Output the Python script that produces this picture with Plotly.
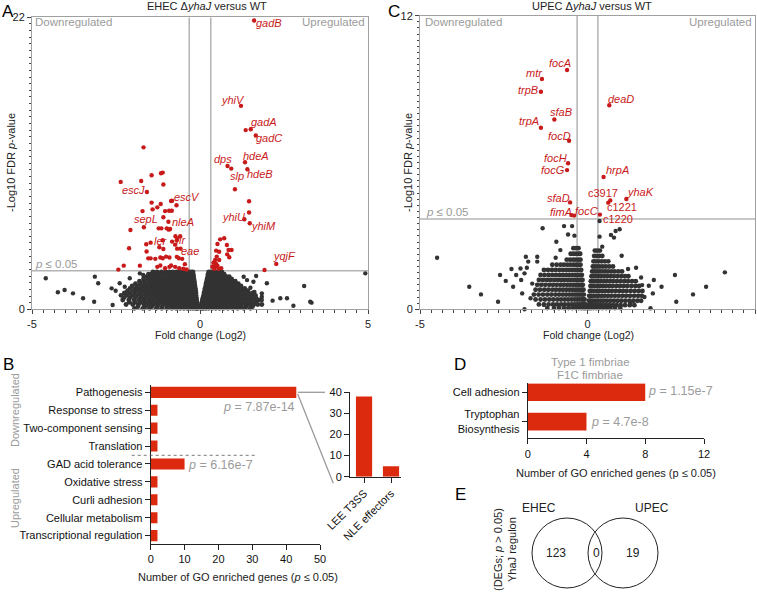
import plotly.graph_objects as go

W, H = 757, 597
FONT = "Liberation Sans, Arial, Helvetica, sans-serif"
RED_PT = "#c81a1a"
RED_BAR = "#dc2a0e"
BLACK_PT = "#333333"
GRAY = "#9b9b9b"
LINE_GRAY = "#b4b4b4"

# ---------------- Panel A: EHEC volcano ----------------
ehec_sig = [
    (1.61, 21.76), (1.22, 15.33), (1.36, 13.5), (1.51, 13.57), (1.66, 13.1), (1.34, 11.08), (0.82, 10.8),
    (0.93, 10.6), (1.41, 10.55), (1.04, 9.05), (1.46, 8.14), (1.46, 7.29), (1.32, 6.78), (1.48, 6.48),
    (2.27, 3.42), (1.92, 2.96),
    (0.72, 5.35), (0.60, 5.27), (0.80, 4.85), (0.52, 4.92), (0.85, 4.47), (0.94, 4.47), (0.48, 4.42),
    (0.57, 4.34), (0.81, 4.14), (0.87, 3.92), (0.50, 3.97), (0.45, 3.72), (0.57, 3.72), (0.40, 3.51),
    (0.48, 3.41), (0.37, 3.21), (0.45, 3.21), (0.52, 3.29), (0.42, 3.05), (0.55, 3.05), (0.63, 3.10),
    (-1.68, 12.2), (-2.36, 9.6), (-1.75, 9.67), (-1.44, 10.1), (-1.16, 10.25), (-1.11, 10.3), (-1.09, 9.4),
    (-1.58, 8.84), (-1.44, 8.04), (-1.17, 7.93), (-0.86, 8.16), (-0.83, 8.18), (-0.70, 7.84), (-1.71, 7.4),
    (-1.41, 7.53), (-1.27, 7.68), (-1.04, 7.4), (-0.92, 7.43), (-0.84, 7.43), (-1.09, 6.93), (-0.94, 6.6),
    (-1.67, 6.18), (-2.07, 5.98), (-1.23, 6.1), (-1.15, 6.1), (-0.99, 6.1), (-0.93, 6.0), (-0.89, 6.05),
    (-0.73, 5.5), (-0.68, 5.3), (-0.59, 5.5), (-0.83, 5.1), (-0.69, 5.2), (-1.47, 5.02), (-1.21, 4.67),
    (-1.09, 4.54), (-1.11, 5.2), (-0.74, 4.87), (-0.68, 4.57), (-0.58, 4.57), (-2.11, 4.6), (-1.33, 3.8),
    (-1.18, 3.9), (-1.11, 3.85), (-1.01, 3.97), (-0.91, 3.9), (-0.69, 3.95), (-0.63, 3.85), (-0.53, 3.8),
    (-1.79, 3.29), (-2.43, 2.99), (-1.47, 3.84), (-1.27, 3.2), (-1.18, 3.3), (-1.04, 3.1), (-0.91, 3.2),
    (-0.86, 3.3), (-0.74, 3.2), (-0.62, 3.1), (-0.50, 3.05), (-2.27, 3.29), (-1.59, 4.35), (-1.54, 3.84),
    (-0.40, 3.0), (-0.45, 3.4), (-1.60, 4.9),
]

ehec_ns_rows = [
    (2.82, [-1.40, -1.28, -1.15, -1.03, -0.92, -0.81, -0.70, -0.60, -0.50, -0.42, -0.34, -0.27, -0.21,
            0.26, 0.33, 0.40, 0.48, 0.56, 0.65]),
    (2.64, [-1.46, -1.34, -1.22, -1.09, -0.97, -0.86, -0.75, -0.65, -0.55, -0.46, -0.38, -0.30, -0.24, -0.20,
            0.24, 0.30, 0.37, 0.44, 0.52, 0.61, 0.72]),
    (2.46, [-1.58, -1.45, -1.33, -1.21, -1.09, -0.97, -0.86, -0.76, -0.66, -0.56, -0.47, -0.39, -0.31, -0.24, -0.19,
            0.23, 0.30, 0.37, 0.44, 0.52, 0.60, 0.69, 0.78, 0.87]),
    (2.28, [-1.68, -1.55, -1.42, -1.30, -1.18, -1.06, -0.95, -0.84, -0.74, -0.64, -0.54, -0.45, -0.37, -0.29, -0.22,
            -0.18,
            0.21, 0.27, 0.34, 0.41, 0.49, 0.57, 0.66, 0.75, 0.84, 0.94]),
    (2.11, [-1.80, -1.66, -1.52, -1.40, -1.28, -1.16, -1.04, -0.93, -0.82, -0.72, -0.62, -0.53, -0.44, -0.36, -0.28,
            -0.22, -0.17,
            0.20, 0.27, 0.34, 0.42, 0.50, 0.58, 0.67, 0.76, 0.85, 0.95, 1.05]),
    (1.93, [-1.92, -1.77, -1.63, -1.50, -1.37, -1.25, -1.13, -1.01, -0.90, -0.80, -0.70, -0.60, -0.51, -0.42, -0.34,
            -0.27, -0.21, -0.16,
            0.18, 0.24, 0.31, 0.39, 0.47, 0.56, 0.65, 0.74, 0.84, 0.94, 1.04, 1.14]),
    (1.76, [-2.02, -1.86, -1.72, -1.59, -1.46, -1.34, -1.22, -1.10, -0.98, -0.87, -0.77, -0.67, -0.57, -0.48, -0.40,
            -0.32, -0.25, -0.19, -0.15,
            0.17, 0.23, 0.30, 0.38, 0.46, 0.55, 0.64, 0.73, 0.83, 0.93, 1.03, 1.13, 1.22]),
    (1.58, [-2.08, -1.92, -1.78, -1.64, -1.51, -1.38, -1.26, -1.14, -1.02, -0.91, -0.80, -0.70, -0.60, -0.51, -0.42,
            -0.34, -0.27, -0.21, -0.16, -0.14,
            0.15, 0.21, 0.28, 0.36, 0.44, 0.53, 0.62, 0.71, 0.81, 0.91, 1.01, 1.11, 1.22, 1.33]),
    (1.41, [-2.15, -1.98, -1.84, -1.70, -1.57, -1.44, -1.31, -1.19, -1.07, -0.95, -0.84, -0.74, -0.64, -0.54, -0.45,
            -0.37, -0.29, -0.22, -0.16, -0.13,
            0.14, 0.19, 0.26, 0.34, 0.42, 0.51, 0.60, 0.69, 0.79, 0.89, 0.99, 1.09, 1.20, 1.31, 1.42]),
    (1.23, [-2.25, -2.08, -1.93, -1.79, -1.65, -1.52, -1.39, -1.26, -1.14, -1.02, -0.91, -0.80, -0.70, -0.60, -0.50,
            -0.41, -0.33, -0.26, -0.20, -0.15, -0.12,
            0.12, 0.18, 0.24, 0.32, 0.40, 0.49, 0.58, 0.68, 0.78, 0.88, 0.98, 1.09, 1.20, 1.32, 1.44, 1.56]),
    (1.05, [-2.35, -2.18, -2.02, -1.88, -1.74, -1.60, -1.47, -1.34, -1.21, -1.09, -0.97, -0.86, -0.75, -0.65, -0.55,
            -0.46, -0.38, -0.30, -0.23, -0.17, -0.12,
            0.11, 0.16, 0.22, 0.30, 0.38, 0.47, 0.56, 0.66, 0.76, 0.86, 0.96, 1.07, 1.18, 1.30, 1.42, 1.54, 1.65]),
    (0.88, [-2.26, -2.08, -1.92, -1.77, -1.63, -1.49, -1.36, -1.23, -1.10, -0.98, -0.87, -0.76, -0.66, -0.56, -0.47,
            -0.39, -0.31, -0.24, -0.18, -0.13, -0.11,
            0.09, 0.14, 0.20, 0.28, 0.36, 0.45, 0.54, 0.64, 0.74, 0.84, 0.95, 1.06, 1.17, 1.29, 1.41, 1.53, 1.66]),
    (0.70, [-2.30, -2.12, -1.96, -1.81, -1.67, -1.53, -1.39, -1.26, -1.13, -1.01, -0.89, -0.78, -0.68, -0.58, -0.49,
            -0.40, -0.32, -0.25, -0.18, -0.13, -0.10,
            0.07, 0.12, 0.18, 0.26, 0.34, 0.43, 0.52, 0.62, 0.72, 0.82, 0.93, 1.04, 1.15, 1.27, 1.39, 1.51, 1.63, 1.75]),
    (0.53, [-2.10, -1.93, -1.77, -1.62, -1.48, -1.34, -1.21, -1.08, -0.96, -0.84, -0.73, -0.63, -0.53, -0.44, -0.36,
            -0.28, -0.21, -0.15, -0.11, -0.09,
            0.06, 0.10, 0.16, 0.24, 0.32, 0.41, 0.50, 0.60, 0.70, 0.81, 0.92, 1.03, 1.15, 1.27, 1.39, 1.52, 1.66]),
    (0.36, [-2.20, -2.00, -1.83, -1.67, -1.52, -1.38, -1.24, -1.11, -0.99, -0.87, -0.76, -0.65, -0.55, -0.46, -0.37,
            -0.29, -0.22, -0.16, -0.11, -0.08,
            0.04, 0.08, 0.14, 0.21, 0.29, 0.38, 0.47, 0.57, 0.67, 0.78, 0.89, 1.00, 1.12, 1.24, 1.36, 1.48, 1.60,
            1.72, 1.84]),
    (0.20, [-1.85, -1.62, -1.44, -1.27, -1.12, -0.98, -0.85, -0.73, -0.62, -0.52, -0.42, -0.33, -0.25, -0.18,
            -0.12, -0.08,
            0.03, 0.07, 0.12, 0.19, 0.27, 0.36, 0.46, 0.56, 0.67, 0.79, 0.92, 1.06, 1.21, 1.38, 1.56]),
    (0.07, [-1.95, -1.70, -1.50, -1.30, -1.14, -0.98, -0.84, -0.71, -0.59, -0.48, -0.38, -0.29, -0.21, -0.14, -0.09,
            -0.07,
            0.02, 0.06, 0.11, 0.18, 0.26, 0.36, 0.47, 0.58, 0.70, 0.83, 0.97, 1.12, 1.30, 1.50]),
]

ehec_ns_sparse = [
    (-4.59, 2.34), (-4.23, 1.28), (-4.03, 1.45), (-3.78, 1.20), (-3.48, 0.83), (-3.13, 2.46), (-3.03, 1.96),
    (-3.15, 0.57), (-2.60, 0.32), (-2.63, 1.58), (-2.51, 1.40), (-2.39, 1.96), (-2.24, 1.70), (-2.17, 1.33),
    (-2.09, 2.34), (-1.79, 2.71), (-1.69, 2.58), (-1.54, 2.66), (4.92, 2.71), (3.10, 1.76), (3.28, 0.57),
    (3.32, 0.50), (2.78, 0.27), (2.39, 0.83), (2.59, 0.83), (2.16, 0.65), (1.99, 1.96), (1.67, 2.51),
    (1.59, 2.08), (1.84, 1.20), (1.84, 0.95), (1.84, 0.70), (1.40, 2.20), (1.30, 2.45), (1.50, 1.62),
    (1.62, 1.30),
]

ehec_genes = ["gadB", "yhiV", "gadA", "gadC", "hdeA", "dps", "slp", "hdeB", "escJ", "escV",
              "sepL", "nleA", "ler", "fir", "eae", "yhiU", "yhiM", "yqjF"]
ehec_gene_x = [2.04, 0.99, 1.89, 2.04, 1.66, 0.68, 1.11, 1.79, -1.99, -0.40,
               -1.62, -0.52, -1.17, -0.54, -0.31, 0.99, 1.89, 2.51]
ehec_gene_y = [21.6, 15.8, 14.1, 12.9, 11.55, 11.3, 10.07, 10.17, 8.99, 8.49,
               6.8, 6.6, 5.17, 5.25, 4.40, 6.98, 6.28, 4.02]

# ---------------- Panel C: UPEC volcano ----------------
upec_sig = [
    (-0.61, 9.78), (-1.36, 9.41), (-1.39, 8.89), (0.65, 8.34), (-0.99, 7.76), (-1.39, 7.42), (-0.55, 6.89),
    (-0.58, 5.97), (-0.61, 5.69), (0.48, 5.41), (1.16, 4.51), (0.62, 4.36), (0.68, 4.45), (-0.52, 4.37),
    (-0.48, 3.85), (-0.40, 3.83), (0.37, 3.87),
]

upec_ns_rows = [
    (2.50, [-0.42, -0.34, -0.27]),
    (2.40, [0.22, 0.29, 0.37]),
    (2.27, [-0.50, -0.42, -0.34, -0.26, -0.22]),
    (2.18, [0.20, 0.27, 0.35, 0.44]),
    (2.03, [-0.62, -0.52, -0.43, -0.35, -0.27, -0.21]),
    (1.96, [0.18, 0.25, 0.33, 0.42, 0.52, 0.62]),
    (1.82, [-1.05, -0.92, -0.80, -0.70, -0.60, -0.51, -0.42, -0.34, -0.27, -0.21]),
    (1.75, [0.16, 0.22, 0.29, 0.37, 0.46, 0.55, 0.65, 0.76]),
    (1.61, [-1.30, -1.18, -1.06, -0.95, -0.84, -0.74, -0.64, -0.55, -0.46, -0.38, -0.30, -0.23, -0.19]),
    (1.55, [0.14, 0.20, 0.27, 0.35, 0.43, 0.52, 0.61, 0.71, 0.81, 0.92, 1.03]),
    (1.40, [-1.40, -1.28, -1.16, -1.05, -0.94, -0.83, -0.73, -0.63, -0.54, -0.45, -0.37, -0.29, -0.22, -0.17]),
    (1.35, [0.12, 0.18, 0.25, 0.33, 0.41, 0.50, 0.59, 0.69, 0.79, 0.90, 1.01, 1.12, 1.22]),
    (1.20, [-1.45, -1.33, -1.21, -1.10, -0.99, -0.88, -0.78, -0.68, -0.58, -0.49, -0.40, -0.32, -0.25, -0.18,
            -0.15]),
    (1.15, [0.10, 0.16, 0.23, 0.31, 0.39, 0.48, 0.57, 0.67, 0.77, 0.88, 0.99, 1.10, 1.21, 1.33, 1.44]),
    (1.00, [-1.50, -1.38, -1.26, -1.14, -1.03, -0.92, -0.81, -0.71, -0.61, -0.52, -0.43, -0.35, -0.27, -0.20,
            -0.14]),
    (0.95, [0.09, 0.14, 0.21, 0.29, 0.37, 0.46, 0.55, 0.65, 0.75, 0.86, 0.97, 1.08, 1.19, 1.31, 1.43, 1.54]),
    (0.80, [-1.55, -1.42, -1.29, -1.17, -1.05, -0.94, -0.83, -0.73, -0.63, -0.54, -0.45, -0.37, -0.29, -0.22,
            -0.16, -0.12]),
    (0.75, [0.07, 0.12, 0.19, 0.27, 0.35, 0.44, 0.53, 0.63, 0.73, 0.84, 0.95, 1.06, 1.17, 1.29, 1.41, 1.53, 1.64]),
    (0.60, [-1.60, -1.46, -1.33, -1.20, -1.08, -0.96, -0.85, -0.74, -0.64, -0.54, -0.45, -0.37, -0.29, -0.22,
            -0.16, -0.11]),
    (0.55, [0.05, 0.10, 0.17, 0.25, 0.33, 0.42, 0.51, 0.61, 0.71, 0.82, 0.93, 1.04, 1.15, 1.27, 1.39, 1.51, 1.62]),
    (0.40, [-1.55, -1.40, -1.27, -1.14, -1.02, -0.90, -0.79, -0.68, -0.58, -0.48, -0.39, -0.31, -0.24, -0.17,
            -0.12, -0.09]),
    (0.35, [0.04, 0.08, 0.14, 0.22, 0.30, 0.39, 0.48, 0.58, 0.68, 0.79, 0.90, 1.01, 1.13, 1.25, 1.37, 1.49, 1.60]),
    (0.20, [-1.45, -1.30, -1.16, -1.03, -0.91, -0.79, -0.68, -0.57, -0.47, -0.38, -0.30, -0.23, -0.17, -0.12,
            -0.08, -0.07]),
    (0.17, [0.03, 0.07, 0.12, 0.19, 0.27, 0.36, 0.45, 0.55, 0.65, 0.76, 0.87, 0.99, 1.12, 1.26, 1.40]),
    (0.05, [-1.20, -1.00, -0.85, -0.70, -0.57, -0.45, -0.35, -0.26, -0.19, -0.13, -0.08, -0.05,
            0.02, 0.06, 0.11, 0.18, 0.26, 0.35, 0.45, 0.56, 0.68, 0.82, 0.98]),
]

upec_ns_sparse = [
    (-4.49, 2.11), (-3.53, 0.92), (-3.18, 0.61), (-2.67, 0.31), (-2.61, 1.40), (-2.44, 1.16), (-2.27, 1.65),
    (-2.22, 0.92), (-2.13, 1.40), (-2.00, 1.67), (-1.98, 1.20), (-1.84, 2.15), (-1.81, 1.70), (-1.77, 1.95),
    (-1.88, 1.47), (-1.95, 0.65), (-1.50, 2.15), (-1.50, 1.95), (-1.34, 3.31), (-0.93, 2.76), (-0.70, 3.40),
    (-0.46, 3.40), (-0.58, 3.06), (-0.39, 3.01), (-0.81, 2.42), (-0.95, 2.11), (-1.30, 0.18), (-1.88, 0.00),
    (-1.65, 1.05), (-1.70, 0.45),
    (4.10, 1.51), (3.54, 0.92), (3.15, 0.61), (2.65, 0.31), (2.61, 1.40), (2.21, 0.92), (1.98, 1.20),
    (1.95, 0.65), (1.83, 0.96), (1.63, 0.99), (1.45, 1.70), (1.21, 1.65), (1.02, 2.19), (0.84, 3.20),
    (0.96, 3.27), (0.36, 2.97), (0.70, 3.04), (0.79, 2.93), (0.44, 2.56), (0.36, 3.61), (1.88, 0.04),
    (1.28, 0.25), (1.70, 0.50), (1.60, 1.30),
]

upec_genes = ["focA", "mtr", "trpB", "deaD", "sfaB", "trpA", "focD", "focH", "focG", "hrpA",
              "yhaK", "c3917", "c1221", "sfaD", "fimA", "focC", "c1220"]
upec_gene_italic = [True, True, True, True, True, True, True, True, True, True,
                    True, False, False, True, True, True, False]
upec_gene_x = [-0.81, -1.59, -1.79, 1.00, -0.79, -1.76, -0.84, -0.97, -1.04, 0.90,
               1.59, 0.47, 1.03, -0.87, -0.79, -0.03, 0.90]
upec_gene_y = [10.08, 9.67, 8.96, 8.58, 8.05, 7.71, 7.08, 6.17, 5.69, 5.69,
               4.78, 4.77, 4.17, 4.54, 3.99, 4.03, 3.69]

# ---------------- Panel B: GO enrichment EHEC ----------------
b_categories = ["Pathogenesis", "Response to stress", "Two-component sensing", "Translation",
                "GAD acid tolerance", "Oxidative stress", "Curli adhesion", "Cellular metabolism",
                "Transcriptional regulation"]
b_values = [43, 2, 2, 2, 10, 2, 2, 2, 2]
inset_categories = ["LEE T3SS", "NLE effectors"]
inset_values = [38, 5]

# ---------------- Panel D: GO enrichment UPEC ----------------
d_categories = ["Cell adhesion", "Tryptophan<br>Biosynthesis"]
d_values = [8, 4]

# ---------------- Panel E: Venn ----------------
venn_counts = ["123", "0", "19"]
venn_sets = ["EHEC", "UPEC"]


def px(x):
    return x / W


def py(y):
    return 1 - y / H


def flatten(rows):
    xs, ys = [], []
    for yv, xl in rows:
        xs += xl
        ys += [yv] * len(xl)
    return xs, ys


fig = go.Figure()

MS = 4.4
MS_DENSE = 4.9


def pts(trace_x, trace_y, xa, ya, color, size):
    fig.add_trace(go.Scatter(x=trace_x, y=trace_y, mode="markers", xaxis=xa, yaxis=ya, cliponaxis=False,
                             marker=dict(size=size, color=color, line=dict(width=0)), hoverinfo="skip"))


ax_d, ay_d = flatten(ehec_ns_rows)
pts(ax_d, ay_d, "x", "y", BLACK_PT, MS_DENSE)
pts([p[0] for p in ehec_ns_sparse], [p[1] for p in ehec_ns_sparse], "x", "y", BLACK_PT, MS)
pts([p[0] for p in ehec_sig], [p[1] for p in ehec_sig], "x", "y", RED_PT, MS)

cx_d, cy_d = flatten(upec_ns_rows)
pts(cx_d, cy_d, "x2", "y2", BLACK_PT, MS_DENSE)
pts([p[0] for p in upec_ns_sparse], [p[1] for p in upec_ns_sparse], "x2", "y2", BLACK_PT, MS)
pts([p[0] for p in upec_sig], [p[1] for p in upec_sig], "x2", "y2", RED_PT, MS)

fig.add_trace(go.Bar(y=list(range(len(b_categories))), x=b_values, orientation="h", width=0.62,
                     marker=dict(color=RED_BAR, line=dict(width=0)), xaxis="x3", yaxis="y3", hoverinfo="skip"))
fig.add_trace(go.Bar(x=list(range(len(inset_categories))), y=inset_values, width=0.6,
                     marker=dict(color=RED_BAR, line=dict(width=0)), xaxis="x4", yaxis="y4", hoverinfo="skip"))
fig.add_trace(go.Bar(y=list(range(len(d_categories))), x=d_values, orientation="h", width=0.6,
                     marker=dict(color=RED_BAR, line=dict(width=0)), xaxis="x5", yaxis="y5", hoverinfo="skip"))

tickfont = dict(size=11, color="#222", family=FONT)
volc_common = dict(showline=True, linecolor="#a0a0a0", linewidth=1, mirror=True, ticks="outside",
                   ticklen=4, tickcolor="#444", showgrid=False, zeroline=False, tickfont=tickfont,
                   automargin=False)
bar_common = dict(showline=True, linecolor="#222", linewidth=1, ticks="outside", ticklen=5,
                  tickcolor="#222", showgrid=False, zeroline=False,
                  tickfont=dict(size=11, color="#111", family=FONT), automargin=False)

layout = dict(
    width=W, height=H, autosize=False, margin=dict(l=0, r=0, t=0, b=0, pad=0, autoexpand=False),
    paper_bgcolor="white", plot_bgcolor="white", showlegend=False,
    font=dict(family=FONT, color="#222"),
    xaxis=dict(domain=[px(32), px(368)], range=[-5, 5], tickvals=[-5, 0, 5], ticktext=["-5", "0", "5"],
               anchor="y", minor=dict(ticks="outside", ticklen=2.5, dtick=1 / 3, tick0=-5, tickcolor="#444"),
               **volc_common),
    yaxis=dict(domain=[py(309.3), py(17.3)], range=[0, 22], tickvals=[0, 22], anchor="x",
               minor=dict(ticks="outside", ticklen=2.5, dtick=0.5, tick0=0, tickcolor="#444"), **volc_common),
    xaxis2=dict(domain=[px(420), px(755)], range=[-5, 5], tickvals=[-5, 0, 5], ticktext=["-5", "0", "5"],
                anchor="y2", minor=dict(ticks="outside", ticklen=2.5, dtick=1 / 3, tick0=-5, tickcolor="#444"),
                **volc_common),
    yaxis2=dict(domain=[py(309.3), py(15.7)], range=[0, 12], tickvals=[0, 12], anchor="x2",
                minor=dict(ticks="outside", ticklen=2.5, dtick=0.25, tick0=0, tickcolor="#444"), **volc_common),
    xaxis3=dict(domain=[px(150.7), px(320)], range=[0, 50], tickvals=[0, 10, 20, 30, 40, 50], anchor="y3",
                **bar_common),
    yaxis3=dict(domain=[py(544), py(385)], range=[8.47, -0.41], tickvals=list(range(len(b_categories))),
                ticktext=b_categories, anchor="x3", **bar_common),
    xaxis4=dict(domain=[px(350), px(401)], range=[-0.52, 1.37], tickvals=[0, 1], ticktext=inset_categories,
                tickangle=-45, anchor="y4", **bar_common),
    yaxis4=dict(domain=[py(476.7), py(392.3)], range=[0, 40], tickvals=[0, 10, 20, 30, 40], anchor="x4",
                **bar_common),
    xaxis5=dict(domain=[px(527.7), px(704)], range=[0, 12], tickvals=[0, 4, 8, 12], anchor="y5", **bar_common),
    yaxis5=dict(domain=[py(438.3), py(383.3)], range=[1.565, -0.306], tickvals=[0, 1], ticktext=d_categories,
                anchor="x5", **bar_common),
)

shapes = []
for xr, yr, xl, yl, ymax in [("x", "y", 0.32, 2.9, 22), ("x2", "y2", 0.31, 3.69, 12)]:
    for xv in (-xl, xl):
        shapes.append(dict(type="line", xref=xr, yref=yr, x0=xv, x1=xv, y0=0, y1=ymax, layer="below",
                           line=dict(color=LINE_GRAY, width=1.5)))
    shapes.append(dict(type="line", xref=xr, yref=yr, x0=-5, x1=5, y0=yl, y1=yl, layer="below",
                       line=dict(color=LINE_GRAY, width=1.5)))
shapes.append(dict(type="line", xref="paper", yref="paper", x0=px(131.7), x1=px(255), y0=py(455.3), y1=py(455.3),
                   line=dict(color="#555", width=0.8, dash="dot")))
shapes.append(dict(type="line", xref="paper", yref="paper", x0=px(297.7), x1=px(325), y0=py(392.3), y1=py(392.3),
                   line=dict(color=GRAY, width=1.3)))
shapes.append(dict(type="line", xref="paper", yref="paper", x0=px(297.7), x1=px(333.3), y0=py(394), y1=py(483.3),
                   line=dict(color=GRAY, width=1.3)))
for cx in (567, 623):
    shapes.append(dict(type="circle", xref="paper", yref="paper", x0=px(cx - 35), x1=px(cx + 35),
                       y0=py(553 + 35), y1=py(553 - 35), line=dict(color="#222", width=1)))
layout["shapes"] = shapes


def ann(text, x, y, size=11, color="#222", xanchor="center", yanchor="middle", angle=0):
    return dict(text=text, x=px(x), y=py(y), xref="paper", yref="paper", showarrow=False,
                font=dict(size=size, color=color, family=FONT), xanchor=xanchor, yanchor=yanchor,
                textangle=angle)


anns = [
    ann("A", 8, 11, size=17, color="#000"),
    ann("C", 394, 11, size=17, color="#000"),
    ann("B", 8, 365, size=17, color="#000"),
    ann("D", 460, 364, size=17, color="#000"),
    ann("E", 460, 494, size=17, color="#000"),
    ann("EHEC Δ<i>yhaJ</i> versus WT", 207, 6, size=11),
    ann("UPEC Δ<i>yhaJ</i> versus WT", 592, 6, size=11),
    ann("-Log10 FDR <i>p</i>-value", 11, 163, size=11, angle=-90),
    ann("-Log10 FDR <i>p</i>-value", 408, 163, size=11, angle=-90),
    ann("Fold change (Log2)", 200, 335, size=10.5),
    ann("Fold change (Log2)", 588, 335, size=10.5),
    ann("Downregulated", 33, 22.5, size=11.5, color=GRAY, xanchor="left"),
    ann("Upregulated", 367, 22.5, size=11.5, color=GRAY, xanchor="right"),
    ann("Downregulated", 423, 22.5, size=11.5, color=GRAY, xanchor="left"),
    ann("Upregulated", 754, 22.5, size=11.5, color=GRAY, xanchor="right"),
    ann("<i>p</i> ≤ 0.05", 33, 264, size=11.5, color=GRAY, xanchor="left"),
    ann("<i>p</i> ≤ 0.05", 424, 212, size=11.5, color=GRAY, xanchor="left"),
    ann("<i>p</i> = 7.87e-14", 259, 407, size=12.5, color=GRAY),
    ann("<i>p</i> = 6.16e-7", 220, 465, size=12.5, color=GRAY),
    ann("Downregulated", 15, 410, size=11, color=GRAY, angle=-90),
    ann("Upregulated", 15, 498, size=11, color=GRAY, angle=-90),
    ann("Number of GO enriched genes (<i>p</i> ≤ 0.05)", 238, 577, size=11),
    ann("Type 1 fimbriae", 590, 362, size=11.5, color=GRAY),
    ann("F1C fimbriae", 590, 375, size=11.5, color=GRAY),
    ann("<i>p</i> = 1.15e-7", 680, 391, size=12.5, color=GRAY),
    ann("<i>p</i> = 4.7e-8", 620, 421.7, size=12.5, color=GRAY),
    ann("Number of GO enriched genes (p ≤ 0.05)", 616, 473, size=11),
    ann(venn_sets[0], 539, 508, size=12),
    ann(venn_sets[1], 652, 508, size=12),
    ann(venn_counts[0], 556, 553, size=12),
    ann(venn_counts[1], 596, 553, size=12),
    ann(venn_counts[2], 633, 553, size=12),
    ann("(DEGs; <i>p</i> > 0.05)<br>YhaJ regulon", 505, 550, size=11, angle=-90),
]

for g, gx, gy in zip(ehec_genes, ehec_gene_x, ehec_gene_y):
    anns.append(dict(text=f"<i>{g}</i>", x=gx, y=gy, xref="x", yref="y", showarrow=False,
                     font=dict(size=11, color=RED_PT, family=FONT)))
for g, it, gx, gy in zip(upec_genes, upec_gene_italic, upec_gene_x, upec_gene_y):
    anns.append(dict(text=(f"<i>{g}</i>" if it else g), x=gx, y=gy, xref="x2", yref="y2", showarrow=False,
                     font=dict(size=11, color=RED_PT, family=FONT)))

layout["annotations"] = anns
fig.update_layout(**layout)
fig.write_html("out.html", config={"displayModeBar": False, "staticPlot": True},
               post_script="document.body.style.margin='0';document.body.style.padding='0';"
                           "document.body.style.overflow='hidden';")
